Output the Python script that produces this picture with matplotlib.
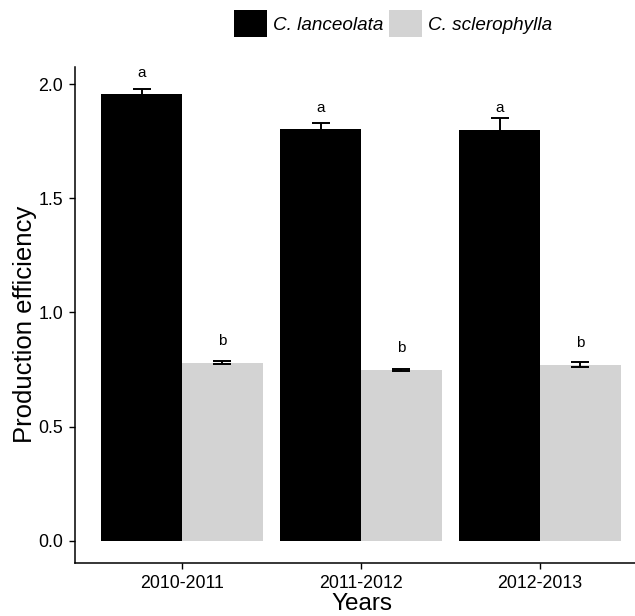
import matplotlib
matplotlib.use("Agg")
import matplotlib.pyplot as plt
from matplotlib.patches import Patch
import numpy as np

plt.rcParams["font.family"] = ["Liberation Sans", "DejaVu Sans"]

# --------------------------------------------------------------------------- #
# Data                                                                         #
# --------------------------------------------------------------------------- #

years = ["2010-2011", "2011-2012", "2012-2013"]
species = ["C. lanceolata", "C. sclerophylla"]

lanceolata_mean = [1.955, 1.802, 1.800]
lanceolata_se = [0.022, 0.029, 0.050]
lanceolata_letters = ["a", "a", "a"]

sclerophylla_mean = [0.780, 0.748, 0.772]
sclerophylla_se = [0.007, 0.006, 0.012]
sclerophylla_letters = ["b", "b", "b"]

COLORS = {"C. lanceolata": "#000000", "C. sclerophylla": "#D3D3D3"}

# --------------------------------------------------------------------------- #
# Plot                                                                         #
# --------------------------------------------------------------------------- #

W, H = 635, 616
fig = plt.figure(figsize=(W / 100, H / 100), dpi=100)
ax = fig.add_axes([75 / W, 1 - 563 / H, 560 / W, 496 / H])

x = np.arange(1, len(years) + 1)
width = 0.45
offset = 0.095  # letter position above the mean

groups = [
    (lanceolata_mean, lanceolata_se, lanceolata_letters, -width / 2, species[0]),
    (sclerophylla_mean, sclerophylla_se, sclerophylla_letters, width / 2, species[1]),
]
for means, ses, letters, dx, name in groups:
    xs = x + dx
    ax.bar(xs, means, width=width, color=COLORS[name], edgecolor="none")
    ax.errorbar(xs, means, yerr=ses, fmt="none", ecolor="black",
                elinewidth=1.4, capsize=6.5, capthick=1.4)
    for xi, m, lab in zip(xs, means, letters):
        ax.text(xi, m + offset, lab, ha="center", va="center", fontsize=11)

ax.set_xlim(0.402, 3.531)
ax.set_ylim(-0.0963, 2.0744)
ax.set_xticks(x)
ax.set_xticklabels(years)
ax.set_yticks([0.0, 0.5, 1.0, 1.5, 2.0])
ax.set_yticklabels(["0.0", "0.5", "1.0", "1.5", "2.0"])

for s in ["top", "right"]:
    ax.spines[s].set_visible(False)
for s in ["left", "bottom"]:
    ax.spines[s].set_linewidth(1.1)
ax.tick_params(axis="both", length=4.5, width=1.0, labelsize=12.8, pad=4,
               colors="black")

ax.set_ylabel("Production efficiency", fontsize=18.5)
ax.yaxis.set_label_coords((25 - 75) / 560, (563 - 324) / 496)
ax.yaxis.label.set_va("center")
ax.set_xlabel("Years", fontsize=17.5)
ax.xaxis.set_label_coords((362 - 75) / 560, (563 - 604) / 496)
ax.xaxis.label.set_va("center")

handles = [Patch(facecolor=COLORS[s], edgecolor="none", label=s) for s in species]
leg = fig.legend(handles=handles, loc="center", ncol=2,
                 bbox_to_anchor=(393 / W, 1 - 23.5 / H), frameon=False,
                 prop={"style": "italic", "size": 13.6},
                 handlelength=1.75, handleheight=1.75, handletextpad=0.3,
                 columnspacing=0.3, borderpad=0)

fig.savefig("out.png", dpi=100)
